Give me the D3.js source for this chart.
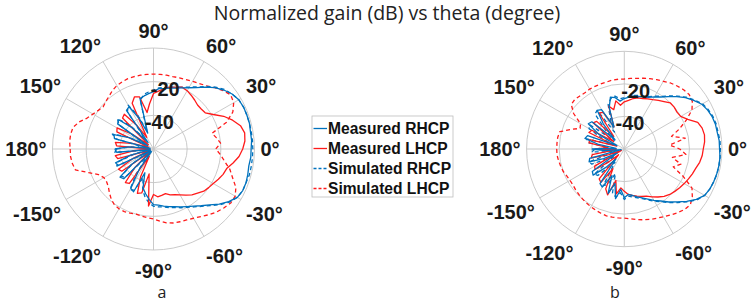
<!DOCTYPE html>
<html><head><meta charset="utf-8">
<script src="https://cdn.jsdelivr.net/npm/d3@7"></script>
<style>body{margin:0;background:#fff}svg{display:block}</style>
</head><body>
<svg id="c" width="754" height="305"></svg>
<script>
// angles (deg) -180..180 step 5
const theta = d3.range(-180, 181, 5);
const seriesNames = ["Measured RHCP", "Measured LHCP", "Simulated RHCP", "Simulated LHCP"];
const angleTicks = [0, 30, 60, 90, 120, 150, 180, -150, -120, -90, -60, -30];
const angleTickLabels = ["0°", "30°", "60°", "90°", "120°", "150°", "180°", "-150°", "-120°", "-90°", "-60°", "-30°"];
const rTicks = [-40, -20, 0];
const rTickLabels = ["-40", "-20", ""];
const panelLabels = ["a", "b"];
const titleText = "Normalized gain (dB) vs theta (degree)";

const a_measRHCP = [-37,-38,-58,-46,-36,-37,-58,-44,-34,-35,-58,-45,-33,-32,-45,-36,-33,-30,
  -27,-26.5,-25.5,-24.5,-23.5,-22,-20.5,-18.5,-16,-13,-9,-5.5,-2.5,-1.5,-1.5,-2,-2.5,-2,-2,-1.5,-1.5,-1,-1,-1,-1.5,-3,-5.5,-8.5,-12,-15.5,-18,-20,-21.5,-22.5,-23.5,-24,-26,
  -27,-28,-29,-50,-40,-31,-32,-55,-42,-33,-34,-56,-44,-35,-36,-58,-45,-37];
const a_simRHCP = [-38,-37,-56,-48,-37,-36,-56,-45,-35,-36,-55,-42,-32,-33,-42,-35,-31,-28,
  -26,-25.5,-25,-24,-23,-21.5,-20,-18,-15.5,-12.5,-8.5,-5,-2.5,-1.5,-1.5,-1,-1,-1,-1,-1,-1,-1,-1,-1,-1.5,-3,-5,-8,-11.5,-15,-17.5,-19.5,-21,-22,-23,-23.5,-25,
  -26,-27,-30,-48,-38,-30,-33,-52,-40,-32,-35,-54,-43,-34,-37,-55,-46,-38];
const a_measLHCP = [-58,-48,-37,-38,-58,-46,-36,-37,-57,-44,-34,-35,-55,-42,-32,-33,-45,-26,
  -33,-31.5,-32,-32.5,-31,-30,-28.5,-26.5,-24.5,-23,-21,-20,-19,-17.5,-16,-15,-12,-9,-7,-5.5,-5,-6.5,-10,-14,-19,-22.5,-23,-23,-22,-21,-20,-19.5,-21,-22,-23.5,-25.5,-27,
  -33,-38,-28,-27,-30,-52,-43,-33,-34,-56,-45,-35,-36,-57,-47,-37,-38,-58];
const a_simLHCP = [-10.5,-10.5,-11,-12,-19,-24,-26,-26,-25,-23,-21,-19.5,-19,-19,-19.5,-20,-19.5,-19,
  -18.5,-17,-15.5,-14.5,-14,-13.5,-12.5,-11,-9,-7,-5.5,-4,-4,-6,-10,-13,-17,-20,-23,-20,-22,-24,-14,-8,-5,-4,-6,-8.5,-11,-12.5,-13.5,-14.5,-15,-15.5,-15.5,-15.5,-15.5,
  -15.5,-15.5,-15.5,-15.5,-16,-16.5,-17.5,-19,-20,-21,-20,-18.5,-16.5,-13,-10.5,-10,-10,-10.5];

const b_measRHCP = [-40,-48,-58,-38,-37,-46,-55,-36,-35,-44,-52,-34,-33,-42,-31,-38,-29,-35,
  -30,-32,-31,-29.5,-28,-26,-23.5,-21,-17.5,-14,-10,-6,-3,-2,-1.5,-1.2,-1,-1,-1.5,-1.5,-2,-2,-2.5,-3.5,-5,-8,-11,-14.5,-18,-21,-23,-25,-26,-26.5,-27,-28,-29,
  -30.5,-28,-27,-33,-45,-32,-31,-40,-52,-34,-33,-42,-55,-36,-35,-44,-55,-40];
const b_simRHCP = [-42,-40,-50,-56,-37,-38,-48,-53,-36,-37,-46,-50,-34,-36,-44,-32,-30,-33,
  -29,-31,-30,-29,-27.5,-25.5,-23,-20.5,-17,-13.5,-9.5,-5.5,-3,-2,-1.5,-1,-1,-1,-1,-1,-1.5,-1.5,-2,-3,-4.5,-7.5,-10.5,-14,-17.5,-20.5,-22.5,-24.5,-25.5,-26,-26.5,-27.5,-28.5,
  -29,-27,-28,-31,-40,-48,-31,-32,-44,-52,-34,-35,-46,-53,-36,-38,-50,-42];
const b_measLHCP = [-42,-55,-40,-39,-50,-58,-39,-38,-48,-55,-36,-35,-46,-33,-30,-40,-32,-36,
  -34,-32,-31,-30,-29,-28,-26,-24,-22,-20.5,-19.5,-18.5,-17.5,-16.5,-15.5,-14.5,-13,-12,-11.5,-10.5,-10,-10.5,-12,-17,-20,-20.5,-20,-20,-22,-23.5,-25,-26,-27,-27.5,-28.5,-30,-31,
  -33,-30,-35,-32,-45,-34,-33,-50,-36,-35,-52,-37,-36,-55,-38,-38,-50,-42];
const b_simLHCP = [-18.5,-18.5,-19,-19.5,-20,-21,-21.5,-21.5,-21,-20.5,-20,-19.5,-19,-18.5,-18,-17.5,-17.5,-17.5,
  -17.5,-17,-16,-15,-14,-13,-12,-10.5,-9,-7.5,-7,-9,-12,-20,-28,-24,-30,-22,-26,-32,-22,-30,-24,-18,-12,-9,-8,-8.5,-9.5,-10.5,-12,-13,-14,-15,-16,-16.5,-17,
  -17,-17,-17.5,-17.5,-17.5,-17.5,-17.8,-17.5,-17,-17.5,-22,-29,-30,-25,-19,-18.5,-18.5,-18.5];

const panels = [
  {cx: 153.5, cy: 149, R: 101, label: panelLabels[0], lx: 162,
   series: [a_measRHCP, a_measLHCP, a_simRHCP, a_simLHCP]},
  {cx: 624.3, cy: 149, R: 97.7, label: panelLabels[1], lx: 615,
   series: [b_measRHCP, b_measLHCP, b_simRHCP, b_simLHCP]}
];
const colors = ["#0072BD", "#FF1A1A", "#0072BD", "#FF1A1A"];
const dashes = [null, null, "4,3", "4,3"];
const FONT = "Liberation Sans, Arial, sans-serif";

const svg = d3.select("#c");
const rad = d => (90 - d) * Math.PI / 180;

panels.forEach(p => {
  const g = svg.append("g").attr("transform", `translate(${p.cx},${p.cy})`);
  const r = d3.scaleLinear().domain([-60, 0]).range([0, p.R]).clamp(true);
  g.selectAll("circle.grid").data(rTicks).join("circle")
    .attr("r", d => r(d)).attr("fill", "none").attr("stroke", "#c4c4c4").attr("stroke-width", 0.9);
  g.selectAll("line.spoke").data(angleTicks).join("line")
    .attr("x1", 0).attr("y1", 0)
    .attr("x2", d => r(0) * Math.sin(rad(d)))
    .attr("y2", d => -r(0) * Math.cos(rad(d)))
    .attr("stroke", "#c4c4c4").attr("stroke-width", 0.9);
  const line = d3.lineRadial().angle(d => rad(d[0])).radius(d => r(d[1]));
  [3, 2, 1, 0].forEach(i => {
    const pts = theta.map((t, k) => [t, p.series[i][k]]);
    g.append("path").attr("d", line(pts)).attr("fill", "none")
      .attr("stroke", colors[i]).attr("stroke-width", 1.3)
      .attr("stroke-dasharray", dashes[i]).attr("stroke-linejoin", "round");
  });
  rTicks.forEach((v, k) => {
    if (!rTickLabels[k]) return;
    const a = rad(80);
    g.append("text").attr("x", r(v) * Math.sin(a)).attr("y", -r(v) * Math.cos(a) + 13)
      .attr("text-anchor", "middle").attr("font-family", FONT)
      .attr("font-weight", "bold").attr("font-size", 20).attr("fill", "#1a1a1a").text(rTickLabels[k]);
  });
  angleTicks.forEach((d, k) => {
    const c = Math.cos(d * Math.PI / 180), s = Math.sin(d * Math.PI / 180);
    const px = (p.R + 8) * c, py = -(p.R + 8) * s;
    const anchor = c > 0.1 ? "start" : (c < -0.1 ? "end" : "middle");
    const dy = s > 0.1 ? -2 : (s < -0.1 ? 15 + 5 * Math.abs(s) : 7);
    const dx = c > 0.1 ? -2 : (c < -0.1 ? 2 : 0);
    g.append("text").attr("font-family", FONT).attr("font-weight", "bold").attr("font-size", 20)
      .attr("fill", "#1a1a1a").attr("text-anchor", anchor)
      .attr("x", px + dx).attr("y", py + dy).text(angleTickLabels[k]);
  });
  svg.append("text").attr("x", p.lx).attr("y", 298).attr("text-anchor", "middle")
    .attr("font-family", "Open Sans, sans-serif").attr("font-size", 16).attr("fill", "#222").text(p.label);
});

svg.append("text").attr("x", 387).attr("y", 20).attr("text-anchor", "middle")
  .attr("font-family", "Open Sans, sans-serif").attr("font-size", 19.5).attr("fill", "#222")
  .text(titleText);

const lg = svg.append("g");
lg.append("rect").attr("x", 312).attr("y", 116).attr("width", 141).attr("height", 81)
  .attr("fill", "#fff").attr("stroke", "#bdbdbd").attr("stroke-width", 0.8);
const rowY = d3.scalePoint().domain(seriesNames).range([128.5, 188.5]);
seriesNames.forEach((n, i) => {
  const y = rowY(n);
  lg.append("line").attr("x1", 313.5).attr("x2", 327).attr("y1", y).attr("y2", y)
    .attr("stroke", colors[i]).attr("stroke-width", 1.3).attr("stroke-dasharray", dashes[i] ? "3,2" : null);
  lg.append("text").attr("x", 328).attr("y", y + 5.5).attr("font-family", FONT)
    .attr("font-weight", "bold").attr("font-size", 15.6).attr("fill", "#111").text(n);
});
</script>
</body></html>
